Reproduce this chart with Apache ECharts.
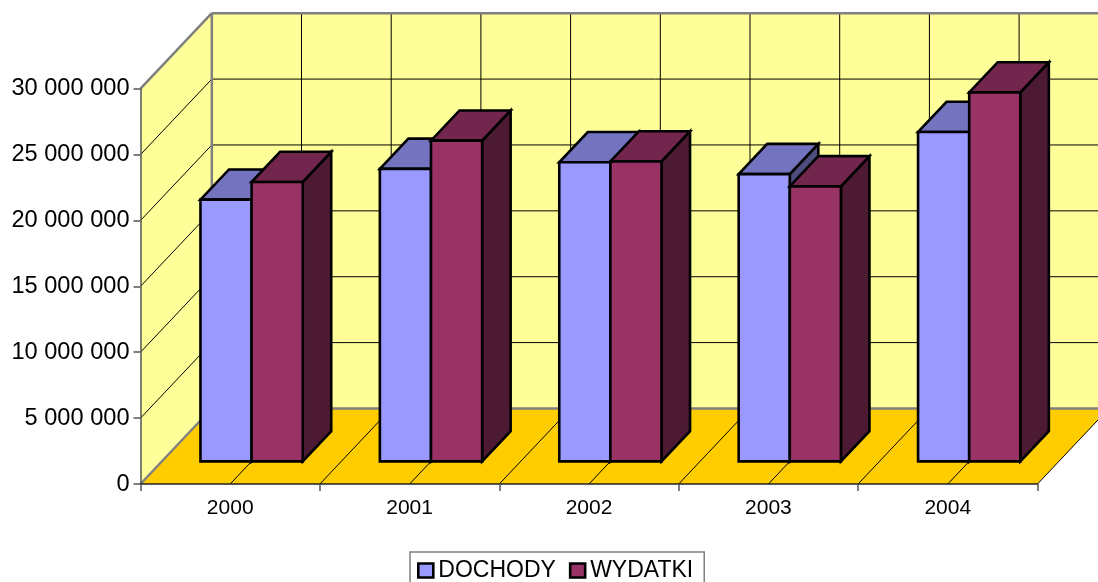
<!DOCTYPE html>
<html>
<head>
<meta charset="utf-8">
<style>html,body{margin:0;padding:0;background:#fff;overflow:hidden}#c{width:1098px;height:582px}</style>
<script src="https://cdn.jsdelivr.net/npm/echarts@6/dist/echarts.min.js"></script>
</head>
<body>
<div id="c"></div>
<script>
const categories = ['2000','2001','2002','2003','2004'];
const dochody = [19860000, 22200000, 22700000, 21800000, 25000000];
const wydatki = [21200000, 24340000, 22760000, 20870000, 28000000];
const yMax = 30000000;
const yStep = 5000000;

const FONT = '"Liberation Sans", Arial, sans-serif';
const DEPTH_X = 71.3, DEPTH_Y = 75.5;
const BAR_NEAR = 0.3, BAR_FAR = 0.7;
const BAR_WIDTH_FRAC = 0.285;
const EDGE = '#808080';

function renderWalls(params, api) {
  const w = api.size([1, 0])[0];
  const p0 = api.coord([0, 0]);
  const x0 = p0[0] - w / 2, y0 = p0[1];
  const yTop = api.coord([0, yMax])[1];
  const x1 = x0 + w * categories.length;
  const poly = (pts, fill) => ({type: 'polygon', shape: {points: pts}, style: {fill: fill}, silent: true});
  const line = (a, b, color, width) => ({type: 'line', shape: {x1: a[0], y1: a[1], x2: b[0], y2: b[1]}, style: {stroke: color, lineWidth: width}, silent: true});
  const back = (x, y) => [x + DEPTH_X, y - DEPTH_Y];
  const kids = [];
  kids.push(poly([[x0, y0], [x0, yTop], back(x0, yTop), back(x0, y0)], '#FFFF99'));
  kids.push(poly([back(x0, yTop), back(x1, yTop), back(x1, y0), back(x0, y0)], '#FFFF99'));
  kids.push(poly([[x0, y0], [x1, y0], back(x1, y0), back(x0, y0)], '#FFCC00'));
  for (let v = yStep; v < yMax; v += yStep) {
    const y = api.coord([0, v])[1];
    kids.push(line([x0, y], back(x0, y), '#000', 1));
    kids.push(line(back(x0, y), back(x1, y), '#000', 1));
  }
  for (let i = 1; i < categories.length * 2; i++) {
    const x = x0 + w * i / 2;
    kids.push(line([x, y0], back(x, y0), '#000', 1));
    kids.push(line(back(x, y0), back(x, yTop), '#000', 1));
  }
  kids.push(line(back(x0, yTop), back(x1, yTop), EDGE, 2.5));
  kids.push(line([x0, yTop], back(x0, yTop), EDGE, 2.5));
  kids.push(line(back(x0, yTop), back(x0, y0), EDGE, 2.5));
  kids.push(line(back(x0, y0), back(x1, y0), EDGE, 2.5));
  kids.push(line([x0, y0], back(x0, y0), EDGE, 2.5));
  kids.push(line([x1, y0], back(x1, y0), '#000', 1));
  return {type: 'group', children: kids};
}

function barRenderer(slot, front, top, side) {
  return function (params, api) {
    const w = api.size([1, 0])[0];
    const bw = w * BAR_WIDTH_FRAC;
    const base = api.coord([api.value(0), 0]);
    const head = api.coord([api.value(0), api.value(1)]);
    const xl = base[0] - bw + slot * bw + DEPTH_X * BAR_NEAR;
    const xr = xl + bw;
    const yb = base[1] - DEPTH_Y * BAR_NEAR;
    const yt = head[1] - DEPTH_Y * BAR_NEAR;
    const dx = DEPTH_X * (BAR_FAR - BAR_NEAR), dy = DEPTH_Y * (BAR_FAR - BAR_NEAR);
    const st = f => ({fill: f, stroke: '#000', lineWidth: 2.6, lineJoin: 'miter'});
    return {type: 'group', children: [
      {type: 'polygon', shape: {points: [[xr, yb], [xr + dx, yb - dy], [xr + dx, yt - dy], [xr, yt]]}, style: st(side)},
      {type: 'polygon', shape: {points: [[xl, yt], [xr, yt], [xr + dx, yt - dy], [xl + dx, yt - dy]]}, style: st(top)},
      {type: 'polygon', shape: {points: [[xl, yb], [xr, yb], [xr, yt], [xl, yt]]}, style: st(front)}
    ]};
  };
}

const chart = echarts.init(document.getElementById('c'), null, {renderer: 'canvas'});
chart.setOption({
  animation: false,
  backgroundColor: '#fff',
  grid: {left: 140.5, right: 60.5, top: 88.7, bottom: 98, containLabel: false},
  legend: {
    data: ['DOCHODY', 'WYDATKI'],
    left: 410, top: 552,
    orient: 'horizontal',
    padding: [7, 11, 3, 7],
    icon: 'rect',
    itemWidth: 15, itemHeight: 14, itemGap: 13,
    backgroundColor: '#fff',
    borderColor: '#808080', borderWidth: 1.5,
    selectedMode: false,
    itemStyle: {borderColor: '#000', borderWidth: 2.6},
    textStyle: {fontFamily: FONT, fontSize: 23, color: '#000', padding: [0, 0, 0, 0]}
  },
  xAxis: {
    type: 'category',
    data: categories,
    z: 5,
    axisLine: {lineStyle: {color: '#222', width: 1.5}},
    axisTick: {show: true, length: 7, lineStyle: {color: '#555', width: 1.5}},
    axisLabel: {fontFamily: FONT, fontSize: 21, color: '#000', margin: 14, interval: 0},
    splitLine: {show: false}
  },
  yAxis: {
    type: 'value',
    min: 0, max: yMax, interval: yStep,
    z: 5,
    axisLine: {show: true, lineStyle: {color: '#555', width: 1.5}},
    axisTick: {show: true, length: 7, lineStyle: {color: '#555', width: 1.5}},
    axisLabel: {
      fontFamily: FONT, fontSize: 23.6, color: '#000', margin: 11, padding: [4, 0, 0, 0],
      formatter: v => String(v).replace(/\B(?=(\d{3})+$)/g, ' ')
    },
    splitLine: {show: false}
  },
  series: [
    {type: 'custom', name: 'walls', z: 1, silent: true, renderItem: renderWalls, data: [[0, 0]], encode: {x: 0, y: 1}},
    {type: 'custom', name: 'DOCHODY', z: 2, itemStyle: {color: '#9999FF'},
      renderItem: barRenderer(0, '#9999FF', '#7373BF', '#4D4D80'),
      data: dochody.map((v, i) => [i, v]), encode: {x: 0, y: 1}},
    {type: 'custom', name: 'WYDATKI', z: 3, itemStyle: {color: '#993366'},
      renderItem: barRenderer(1, '#993366', '#73264D', '#4D1A33'),
      data: wydatki.map((v, i) => [i, v]), encode: {x: 0, y: 1}}
  ]
});
</script>
</body>
</html>
